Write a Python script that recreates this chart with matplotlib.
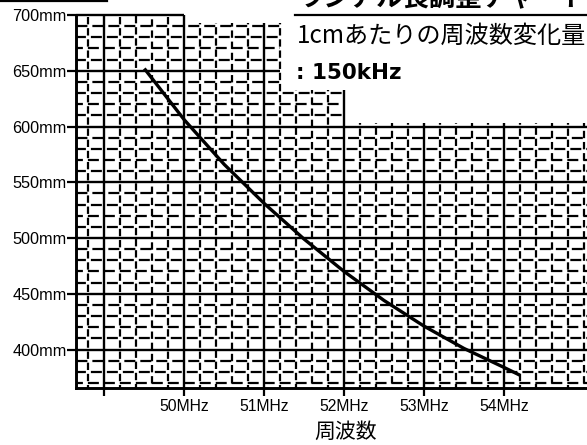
import numpy as np
import matplotlib
matplotlib.use("Agg")
import matplotlib.pyplot as plt

plt.rcParams["lines.scale_dashes"] = False
plt.rcParams["font.family"] = ["Liberation Sans", "DejaVu Sans"]

# ---- data -------------------------------------------------------------
freq_mhz = [49.5, 50.0, 50.5, 51.0, 51.5, 52.0, 52.5, 53.0, 53.5, 54.0, 54.2]
length_mm = [652, 606, 566, 531, 499, 470, 444, 421, 401, 384, 377]

x_ticks = [49, 50, 51, 52, 53, 54]
x_tick_labels = ["", "50MHz", "51MHz", "52MHz", "53MHz", "54MHz"]
y_ticks = [400, 450, 500, 550, 600, 650, 700]
y_tick_labels = ["400mm", "450mm", "500mm", "550mm", "600mm", "650mm", "700mm"]

title_text = "ラジアル長調整チャート"
note_text = "1cmあたりの周波数変化量"
note_value = ": 150kHz"
x_label = "周波数"

# ---- figure / axes ----------------------------------------------------
W, H = 587, 445
fig = plt.figure(figsize=(W / 100, H / 100), dpi=100)
left_px, right_px, top_px, bottom_px = 76, 587, 15, 388
ax = fig.add_axes([left_px / W, 1 - bottom_px / H,
                   (right_px - left_px) / W, (bottom_px - top_px) / H])
x0, x1 = 48.645, 55.04
y0, y1 = 365.5, 700
ax.set_xlim(x0, x1)
ax.set_ylim(y0, y1)

px_per_mhz = (right_px - left_px) / (x1 - x0)
px_per_mm = (bottom_px - top_px) / (y1 - y0)
PT = 0.72  # points per pixel at 100 dpi

for s in ("top", "right"):
    ax.spines[s].set_visible(False)
for s in ("left", "bottom"):
    ax.spines[s].set_linewidth(2.1)
    ax.spines[s].set_zorder(5)


def col_top(x):
    """Upper end of a vertical grid line (the grid steps down to the right)."""
    if x <= 50.001:
        return 700
    if x <= 51.201:
        return 692.5
    if x <= 52.001:
        return 632.5
    return 603.5


def row_end(y):
    """Right end of a horizontal grid line."""
    if y <= 600.01:
        return x1
    if y <= 630.01:
        return 52.0
    if y <= 690.01:
        return 51.2
    return 50.0


def dash_offset(first_cross_px, gap_before_px, on_px, period_px):
    return ((on_px - (first_cross_px - gap_before_px)) % period_px) * PT


LW = 1.6
LW_MAJOR = 1.7

# horizontal rules: solid every 50 mm, broken every 10 mm
h_period = 0.2 * px_per_mhz
h_off = 5.0
h_on = h_period - h_off
first_x_cross = (48.8 - x0) * px_per_mhz
h_gaps = [2.5, h_off + 0.5, 2.5, 1.0]       # gap position per row in a block
for y in np.arange(370, 701, 10):
    xe = row_end(y)
    k = int(round((y % 50) / 10))
    if k == 0:
        ax.plot([x0, xe], [y, y], color="black", lw=LW_MAJOR,
                solid_capstyle="butt", clip_on=False, zorder=2)
    else:
        off = dash_offset(first_x_cross, h_gaps[k - 1], h_on, h_period)
        ax.plot([x0, xe], [y, y], color="black", lw=LW, clip_on=False,
                zorder=2, solid_capstyle="butt", dash_capstyle="butt",
                linestyle=(off, (h_on * PT, h_off * PT)))

# vertical rules: solid every 1 MHz, broken every 0.2 MHz
v_period = 10 * px_per_mm
v_off = 3.8
v_on = v_period - v_off
first_y_cross = (370 - y0) * px_per_mm
v_gaps = [2.0, v_off + 0.5, 2.0, 1.0, v_off + 0.5]
for i, x in enumerate(np.arange(48.8, 55.01, 0.2)):
    yt = col_top(x)
    if abs(x - round(x)) < 1e-6 and 49 <= round(x) <= 54:
        ax.plot([x, x], [y0, yt], color="black", lw=LW_MAJOR,
                solid_capstyle="butt", clip_on=False, zorder=2)
    else:
        off = dash_offset(first_y_cross, v_gaps[i % len(v_gaps)], v_on, v_period)
        ax.plot([x, x], [y0, yt], color="black", lw=LW, clip_on=False,
                zorder=2, dash_capstyle="butt",
                linestyle=(off, (v_on * PT, v_off * PT)))

# curve
ax.plot(freq_mhz, length_mm, color="black", lw=2.4, zorder=6,
        solid_capstyle="butt")

# ticks
ax.set_xticks(x_ticks)
ax.set_xticklabels(x_tick_labels)
ax.set_yticks(y_ticks)
ax.set_yticklabels(y_tick_labels)
ax.tick_params(axis="x", direction="out", length=5.5, width=1.6, pad=2.5,
               labelsize=11.3)
ax.tick_params(axis="y", direction="out", length=6.5, width=1.6, pad=0.0,
               labelsize=11.7)

ax.text(52.02, y0 - 44 / px_per_mm, x_label, ha="center", va="center",
        fontsize=15, family=["Noto Sans CJK JP"])

# header block at top right
fig.text(298 / W, 1 - 6.5 / H, title_text, ha="left", va="baseline",
         fontsize=19, fontweight="bold", family=["Noto Sans CJK JP"])
fig.add_artist(plt.Line2D([295 / W, 1.0], [1 - 15 / H, 1 - 15 / H],
                          color="black", lw=1.6))
fig.text(297 / W, 1 - 35.5 / H, note_text, ha="left", va="center",
         fontsize=17.4, family=["Noto Sans CJK JP"])
fig.text(296 / W, 1 - 72.5 / H, note_value, ha="left", va="center",
         fontsize=15.5, fontweight="bold", family=["DejaVu Sans"])

# rule at top left
fig.add_artist(plt.Line2D([0, 107 / W], [1 - 1 / H, 1 - 1 / H],
                          color="black", lw=1.6))

fig.savefig("out.png", dpi=100, facecolor="white")
